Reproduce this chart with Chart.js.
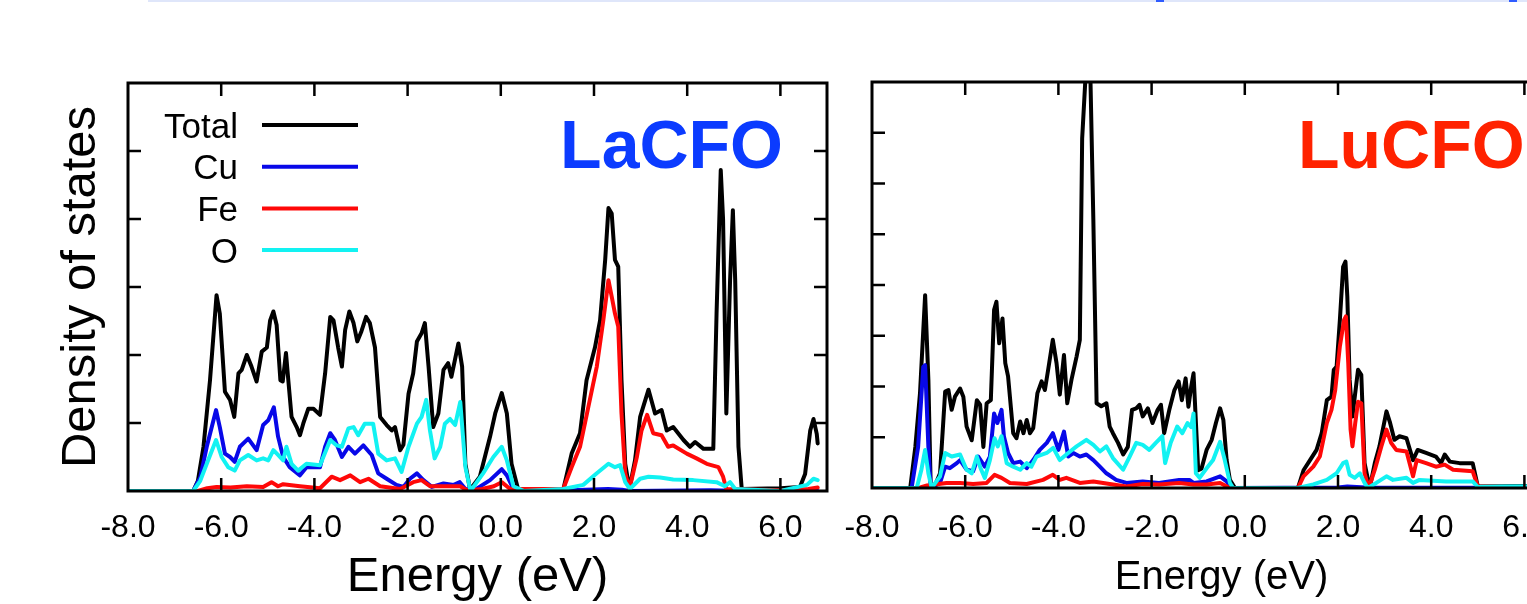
<!DOCTYPE html>
<html>
<head>
<meta charset="utf-8">
<script src="https://cdn.jsdelivr.net/npm/chart.js@4"></script>
<style>
  html, body { margin: 0; padding: 0; background: #fff; width: 1527px; height: 604px; overflow: hidden; }
  body { position: relative; }
  canvas { position: absolute; top: 0; }
  #laChart { left: 0; }
  #luChart { left: 830px; }
  .rule { position: absolute; top: 0; left: 148px; width: 1379px; height: 2px; background: #dfe6fa; }
  .mark { position: absolute; top: 0; height: 2px; width: 8px; background: #2f5cff; }
</style>
</head>
<body>
<div class="rule"></div>
<div class="mark" style="left:1156px"></div>
<div class="mark" style="left:1509px"></div>
<canvas id="laChart" width="840" height="604" style="width:840px;height:604px"></canvas>
<canvas id="luChart" width="770" height="604" style="width:770px;height:604px"></canvas>
<script>
// Energy axis ticks (eV) and their labels
const energyTicks = [-8, -6, -4, -2, 0, 2, 4, 6];
const energyTickLabels = ['-8.0', '-6.0', '-4.0', '-2.0', '0.0', '2.0', '4.0', '6.0'];
const laDosTicks = [1, 2, 3, 4, 5];
const luDosTicks = [1, 2, 3, 4, 5, 6, 7];
const seriesNames = ['Total', 'Cu', 'Fe', 'O'];

// ---- LaCFO projected density of states ----
const laTotalE = [-8.0, -6.6, -6.5, -6.38, -6.24, -6.10, -6.03, -5.92, -5.81, -5.72, -5.63, -5.56, -5.45, -5.35, -5.24, -5.13, -5.02, -4.95, -4.88, -4.81, -4.73, -4.68, -4.61, -4.56, -4.49, -4.38, -4.31, -4.24, -4.13, -4.02, -3.88, -3.77, -3.66, -3.59, -3.49, -3.41, -3.34, -3.25, -3.16, -3.08, -2.99, -2.89, -2.81, -2.70, -2.59, -2.45, -2.34, -2.27, -2.16, -2.09, -1.98, -1.88, -1.80, -1.70, -1.63, -1.55, -1.45, -1.34, -1.23, -1.13, -1.06, -0.91, -0.83, -0.76, -0.66, -0.45, -0.23, -0.12, 0.02, 0.13, 0.23, 0.37, 1.0, 1.34, 1.52, 1.70, 1.84, 2.02, 2.13, 2.24, 2.31, 2.38, 2.45, 2.52, 2.59, 2.67, 2.76, 2.88, 2.99, 3.17, 3.31, 3.45, 3.56, 3.70, 3.92, 4.06, 4.17, 4.35, 4.56, 4.63, 4.72, 4.77, 4.84, 4.92, 4.98, 5.03, 5.10, 5.17, 6.0, 6.42, 6.53, 6.64, 6.71, 6.78, 6.80];
const laTotal = [0, 0, 0.15, 0.65, 1.63, 2.88, 2.61, 1.46, 1.34, 1.09, 1.73, 1.78, 2.0, 1.83, 1.61, 2.05, 2.11, 2.51, 2.64, 2.44, 1.63, 1.61, 2.03, 1.63, 1.09, 0.94, 0.82, 0.99, 1.21, 1.21, 1.12, 1.73, 2.56, 2.51, 2.11, 1.83, 2.37, 2.64, 2.47, 2.20, 2.35, 2.56, 2.47, 2.11, 1.09, 0.97, 0.89, 0.94, 0.60, 0.68, 1.43, 1.73, 2.20, 2.32, 2.47, 1.83, 0.94, 1.14, 1.78, 1.88, 1.68, 2.17, 1.83, 0.40, 0.02, 0.21, 0.80, 1.14, 1.44, 1.14, 0.40, 0.03, 0.01, 0.02, 0.55, 0.85, 1.63, 2.11, 2.51, 3.40, 4.16, 4.08, 3.40, 3.30, 1.63, 0.40, 0.03, 0.45, 1.09, 1.49, 1.14, 1.19, 0.89, 0.94, 0.75, 0.65, 0.72, 0.62, 0.62, 2.61, 4.72, 3.99, 1.14, 3.10, 4.13, 3.10, 0.65, 0.03, 0.04, 0.06, 0.25, 0.89, 1.06, 0.84, 0.70];

const laCuE = [-8.0, -6.6, -6.45, -6.31, -6.11, -6.03, -5.92, -5.81, -5.71, -5.60, -5.42, -5.24, -5.10, -4.99, -4.87, -4.78, -4.67, -4.53, -4.31, -4.17, -3.88, -3.77, -3.66, -3.56, -3.41, -3.27, -3.13, -2.95, -2.77, -2.63, -2.45, -2.24, -2.09, -1.95, -1.80, -1.66, -1.48, -1.23, -1.01, -0.88, -0.76, -0.55, -0.23, 0.02, 0.13, 0.27, 1.5, 2.3, 2.6, 2.76, 4.5, 5.2, 6.8];
const laCu = [0, 0, 0.2, 0.65, 1.19, 0.94, 0.55, 0.50, 0.43, 0.65, 0.77, 0.60, 0.97, 1.04, 1.23, 0.80, 0.50, 0.35, 0.23, 0.35, 0.35, 0.65, 0.85, 0.75, 0.50, 0.65, 0.55, 0.67, 0.53, 0.26, 0.18, 0.09, 0.06, 0.18, 0.26, 0.16, 0.06, 0.11, 0.09, 0.13, 0.03, 0.02, 0.16, 0.32, 0.23, 0.03, 0.01, 0.03, 0.02, 0, 0.01, 0, 0];

const laFeE = [-8.0, -6.5, -6.3, -6.10, -5.8, -5.45, -5.1, -4.92, -4.78, -4.67, -4.31, -3.88, -3.63, -3.45, -3.23, -3.02, -2.84, -2.59, -2.16, -1.88, -1.70, -1.52, -1.01, -0.87, -0.73, -0.4, -0.15, 0.02, 0.2, 1.34, 1.52, 1.70, 1.88, 2.06, 2.20, 2.31, 2.38, 2.45, 2.52, 2.59, 2.67, 2.76, 2.92, 3.02, 3.14, 3.27, 3.45, 3.59, 3.70, 3.99, 4.20, 4.42, 4.67, 4.77, 4.84, 6.0, 6.6, 6.8];
const laFe = [0, 0, 0.04, 0.06, 0.05, 0.07, 0.06, 0.13, 0.07, 0.10, 0.07, 0.04, 0.21, 0.16, 0.23, 0.13, 0.18, 0.07, 0.03, 0.13, 0.16, 0.07, 0.07, 0.07, 0.01, 0.03, 0.07, 0.13, 0.03, 0.03, 0.35, 0.65, 1.24, 1.83, 2.51, 3.10, 2.86, 2.61, 2.42, 1.14, 0.26, 0.03, 0.50, 0.89, 1.12, 0.85, 0.82, 0.65, 0.67, 0.55, 0.48, 0.40, 0.35, 0.21, 0.03, 0.01, 0.03, 0.05];

const laOE = [-8.0, -6.6, -6.45, -6.31, -6.11, -5.99, -5.85, -5.71, -5.60, -5.42, -5.24, -5.10, -4.99, -4.88, -4.78, -4.67, -4.60, -4.49, -4.35, -4.17, -3.88, -3.66, -3.52, -3.41, -3.27, -3.16, -3.06, -2.92, -2.74, -2.63, -2.45, -2.27, -2.13, -1.98, -1.80, -1.70, -1.60, -1.52, -1.42, -1.30, -1.20, -1.09, -0.98, -0.87, -0.76, -0.65, -0.38, -0.16, 0.02, 0.13, 0.27, 0.5, 1.34, 1.77, 2.06, 2.31, 2.45, 2.56, 2.67, 2.77, 2.99, 3.17, 3.42, 3.70, 4.13, 4.63, 4.81, 4.92, 5.03, 6.0, 6.57, 6.71, 6.80];
const laO = [0, 0, 0.15, 0.40, 0.75, 0.50, 0.35, 0.30, 0.45, 0.53, 0.45, 0.48, 0.45, 0.60, 0.53, 0.45, 0.65, 0.40, 0.30, 0.40, 0.38, 0.75, 0.67, 0.65, 0.92, 0.94, 0.82, 0.99, 0.99, 0.55, 0.45, 0.48, 0.28, 0.65, 0.99, 1.09, 1.34, 0.89, 0.48, 0.65, 0.99, 1.06, 0.97, 1.31, 0.35, 0.0, 0.26, 0.50, 0.65, 0.45, 0.07, 0.0, 0.03, 0.09, 0.26, 0.40, 0.35, 0.38, 0.13, 0.03, 0.18, 0.21, 0.20, 0.17, 0.16, 0.13, 0.07, 0.13, 0.03, 0.0, 0.09, 0.18, 0.16];

// ---- LuCFO projected density of states ----
const luTotalE = [-8.0, -7.18, -7.07, -6.97, -6.86, -6.79, -6.74, -6.65, -6.54, -6.43, -6.36, -6.29, -6.22, -6.11, -6.04, -5.97, -5.86, -5.75, -5.68, -5.61, -5.54, -5.45, -5.38, -5.33, -5.27, -5.20, -5.14, -5.08, -4.97, -4.90, -4.82, -4.75, -4.68, -4.61, -4.54, -4.45, -4.36, -4.29, -4.22, -4.12, -4.04, -3.97, -3.88, -3.81, -3.72, -3.61, -3.54, -3.49, -3.40, -3.32, -3.25, -3.18, -3.08, -2.97, -2.90, -2.83, -2.72, -2.61, -2.51, -2.42, -2.33, -2.26, -2.19, -2.08, -1.98, -1.87, -1.80, -1.73, -1.62, -1.51, -1.42, -1.35, -1.27, -1.21, -1.15, -1.10, -1.06, -1.00, -0.93, -0.82, -0.71, -0.62, -0.53, -0.46, -0.39, -0.32, -0.21, 1.14, 1.26, 1.40, 1.54, 1.65, 1.76, 1.86, 1.91, 1.97, 2.04, 2.11, 2.16, 2.20, 2.25, 2.31, 2.36, 2.43, 2.50, 2.57, 2.68, 2.79, 2.89, 3.04, 3.11, 3.21, 3.32, 3.47, 3.61, 3.71, 3.89, 4.10, 4.21, 4.29, 4.40, 4.61, 4.89, 5.00, 6.0, 7.0];
const luTotal = [0, 0, 0.81, 1.87, 3.80, 2.13, 0.02, 0.05, 0.29, 1.90, 1.93, 1.54, 1.80, 1.96, 1.80, 1.21, 0.94, 1.73, 1.64, 0.81, 1.67, 1.73, 3.51, 3.67, 2.85, 3.34, 2.46, 2.20, 1.08, 0.98, 1.31, 1.08, 1.34, 1.08, 1.18, 1.87, 2.10, 1.93, 2.33, 2.92, 2.46, 1.84, 2.62, 1.67, 2.13, 2.59, 2.92, 6.89, 8.4, 8.4, 5.28, 1.67, 1.61, 1.67, 1.21, 1.08, 0.89, 0.66, 0.81, 1.54, 1.57, 1.64, 1.41, 1.57, 1.28, 1.54, 1.64, 1.08, 1.54, 1.93, 2.10, 1.73, 2.16, 1.60, 2.00, 2.26, 1.50, 0.35, 0.38, 0.75, 0.95, 1.28, 1.57, 1.34, 0.55, 0.16, 0.0, 0.0, 0.35, 0.55, 0.75, 1.08, 1.73, 1.80, 2.33, 2.39, 3.31, 4.36, 4.46, 3.77, 2.13, 1.41, 1.80, 2.33, 2.23, 0.49, 0.0, 0.49, 0.82, 1.51, 1.31, 0.95, 1.02, 0.98, 0.55, 0.75, 0.69, 0.62, 0.49, 0.66, 0.52, 0.49, 0.49, 0.03, 0.04, 0.05];

const luCuE = [-8.0, -7.15, -7.01, -6.90, -6.86, -6.79, -6.74, -6.54, -6.43, -6.33, -6.18, -6.11, -5.97, -5.83, -5.72, -5.58, -5.47, -5.38, -5.31, -5.22, -5.17, -5.08, -4.97, -4.82, -4.68, -4.54, -4.40, -4.25, -4.12, -4.00, -3.88, -3.79, -3.68, -3.54, -3.40, -3.25, -3.11, -2.97, -2.76, -2.54, -2.19, -1.84, -1.41, -1.19, -1.10, -0.82, -0.53, -0.39, -0.28, 2.0, 2.2, 2.6, 7.0];
const luCu = [0, 0, 0.81, 2.39, 2.42, 0.81, 0, 0.10, 0.42, 0.39, 0.49, 0.55, 0.36, 0.33, 0.62, 0.42, 0.62, 1.47, 1.28, 1.54, 1.02, 0.69, 0.49, 0.52, 0.39, 0.55, 0.75, 0.89, 1.08, 0.75, 1.11, 0.62, 0.69, 0.62, 0.66, 0.55, 0.42, 0.29, 0.16, 0.10, 0.13, 0.10, 0.16, 0.16, 0.10, 0.13, 0.23, 0.13, 0, 0.01, 0.03, 0.01, 0];

const luFeE = [-8.0, -7.0, -6.82, -6.40, -6.11, -5.83, -5.54, -5.37, -5.22, -5.04, -4.68, -4.33, -4.12, -3.97, -3.83, -3.54, -3.25, -2.90, -2.54, -2.19, -1.84, -1.41, -1.10, -0.82, -0.53, -0.32, 1.14, 1.26, 1.47, 1.61, 1.76, 1.86, 1.94, 2.04, 2.13, 2.17, 2.22, 2.27, 2.31, 2.37, 2.43, 2.50, 2.57, 2.66, 2.79, 2.93, 3.04, 3.14, 3.25, 3.47, 3.61, 3.69, 3.89, 4.10, 4.29, 4.47, 4.89, 5.00, 7.0];
const luFe = [0, 0, 0.05, 0.10, 0.10, 0.08, 0.10, 0.26, 0.20, 0.10, 0.08, 0.16, 0.26, 0.16, 0.20, 0.10, 0.13, 0.08, 0.03, 0.08, 0.07, 0.10, 0.07, 0.07, 0.10, 0, 0, 0.23, 0.42, 0.62, 1.28, 1.54, 1.93, 2.79, 3.31, 3.38, 2.46, 1.15, 0.82, 1.28, 1.70, 1.67, 0.29, 0, 0.36, 0.82, 1.15, 0.89, 0.75, 0.72, 0.23, 0.55, 0.49, 0.42, 0.46, 0.36, 0.33, 0.03, 0];

const luOE = [-8.0, -7.04, -6.94, -6.86, -6.79, -6.72, -6.54, -6.43, -6.29, -6.11, -5.97, -5.86, -5.75, -5.67, -5.58, -5.47, -5.37, -5.30, -5.22, -5.11, -4.97, -4.82, -4.68, -4.58, -4.47, -4.25, -4.11, -3.97, -3.79, -3.61, -3.40, -3.25, -3.11, -2.97, -2.83, -2.61, -2.47, -2.33, -2.19, -2.05, -1.91, -1.77, -1.71, -1.59, -1.45, -1.34, -1.23, -1.15, -1.10, -1.05, -0.97, -0.82, -0.68, -0.53, -0.43, -0.32, -0.25, 1.14, 1.47, 1.76, 1.97, 2.11, 2.18, 2.25, 2.36, 2.47, 2.57, 2.64, 2.82, 3.04, 3.18, 3.47, 3.61, 3.75, 4.32, 4.89, 5.00, 5.5, 7.0];
const luO = [0, 0, 0.36, 0.75, 0.29, 0, 0.23, 0.69, 0.62, 0.66, 0.36, 0.29, 0.62, 0.39, 0.20, 0.55, 0.98, 0.82, 1.02, 0.49, 0.42, 0.36, 0.49, 0.42, 0.62, 0.69, 0.79, 0.55, 0.69, 0.82, 0.95, 0.85, 0.72, 0.82, 0.59, 0.36, 0.62, 0.89, 0.85, 0.75, 0.89, 1.02, 0.49, 0.89, 1.21, 1.08, 1.28, 1.20, 1.47, 0.29, 0.20, 0.39, 0.55, 0.91, 0.55, 0.10, 0, 0, 0.07, 0.16, 0.29, 0.49, 0.52, 0.26, 0.20, 0.29, 0.10, 0, 0.10, 0.23, 0.16, 0.20, 0.10, 0.16, 0.13, 0.13, 0.02, 0.03, 0.04];

const FONT = "'Liberation Sans', Arial, Helvetica, sans-serif";
const COLORS = { Total: '#000000', Cu: '#0808e8', Fe: '#ff0808', O: '#12f2f2' };

function pairs(es, vs) { return es.map((e, i) => ({ x: e, y: vs[i] })); }

// Box frame with inward tick marks on all four sides
const framePlugin = {
  id: 'frame',
  afterDatasetsDraw(chart) {
    const { ctx, chartArea: a, scales } = chart;
    const len = 13;
    ctx.save();
    ctx.strokeStyle = '#000';
    ctx.lineWidth = 2.5;
    ctx.beginPath();
    energyTicks.forEach(v => {
      if (v <= scales.x.min || v >= scales.x.max) return;
      const px = scales.x.getPixelForValue(v);
      ctx.moveTo(px, a.top); ctx.lineTo(px, a.top + len);
      ctx.moveTo(px, a.bottom); ctx.lineTo(px, a.bottom - len);
    });
    chart.options.dosTicks.forEach(v => {
      const py = scales.y.getPixelForValue(v);
      ctx.moveTo(a.left, py); ctx.lineTo(a.left + len, py);
      ctx.moveTo(a.right, py); ctx.lineTo(a.right - len, py);
    });
    ctx.stroke();
    ctx.lineWidth = 3;
    ctx.strokeRect(a.left, a.top, a.right - a.left, a.bottom - a.top);
    ctx.restore();
  }
};

// Compound name and (optionally) the line legend inside the frame
const annotationPlugin = {
  id: 'annot',
  afterDraw(chart) {
    const o = chart.options.annot;
    const { ctx, chartArea: a } = chart;
    ctx.save();
    ctx.font = `bold 68px ${FONT}`;
    ctx.fillStyle = o.color;
    ctx.textBaseline = 'alphabetic';
    ctx.textAlign = o.align;
    ctx.fillText(o.name, a.left + o.nameX, a.top + o.nameY);
    if (o.legend) {
      ctx.font = `35px ${FONT}`;
      ctx.textAlign = 'right';
      chart.data.datasets.forEach((ds, i) => {
        const y = a.top + 42 + i * 41.7;
        ctx.fillStyle = '#000';
        ctx.fillText(ds.label, a.left + 110, y + 12.5);
        ctx.strokeStyle = ds.borderColor;
        ctx.lineWidth = 4;
        ctx.beginPath();
        ctx.moveTo(a.left + 134, y);
        ctx.lineTo(a.left + 230, y);
        ctx.stroke();
      });
    }
    ctx.restore();
  }
};

function makePanel(id, series, cfg) {
  const datasets = series.map((s, i) => ({
    label: seriesNames[i],
    data: pairs(s[0], s[1]),
    borderColor: COLORS[seriesNames[i]],
    borderWidth: 4,
    borderJoinStyle: 'round',
    borderCapStyle: 'round',
    pointRadius: 0,
    tension: 0,
    fill: false,
    order: 4 - i
  }));
  return new Chart(document.getElementById(id), {
    type: 'line',
    data: { datasets },
    plugins: [framePlugin, annotationPlugin],
    options: {
      responsive: false,
      animation: false,
      events: [],
      dosTicks: cfg.dosTicks,
      annot: cfg.annot,
      layout: { padding: { left: 0, top: cfg.top, right: cfg.right, bottom: 0 } },
      plugins: { legend: { display: false }, tooltip: { enabled: false } },
      scales: {
        x: {
          type: 'linear', min: -8, max: 7,
          afterBuildTicks: s => { s.ticks = energyTicks.map(v => ({ value: v })); },
          afterFit: s => { s.height = cfg.xHeight; },
          grid: { display: false },
          border: { display: false },
          ticks: {
            color: '#000', autoSkip: false, maxRotation: 0, minRotation: 0,
            padding: cfg.tickPad,
            font: { family: FONT, size: 32 },
            callback: v => energyTickLabels[energyTicks.indexOf(v)]
          },
          title: {
            display: true, text: 'Energy (eV)', color: '#000',
            font: { family: FONT, size: cfg.xTitleSize, lineHeight: 1 },
            padding: { top: 0, bottom: cfg.xTitlePad }
          }
        },
        y: {
          type: 'linear', min: 0, max: cfg.yMax,
          afterBuildTicks: s => { s.ticks = cfg.dosTicks.map(v => ({ value: v })); },
          afterFit: s => { s.width = cfg.yWidth; },
          grid: { display: false },
          border: { display: false },
          ticks: { display: false },
          title: {
            display: cfg.yTitle, text: 'Density of states', color: '#000',
            font: { family: FONT, size: 49, lineHeight: 1 },
            padding: { top: 57, bottom: 0 }
          }
        }
      }
    }
  });
}

makePanel('laChart',
  [[laTotalE, laTotal], [laCuE, laCu], [laFeE, laFe], [laOE, laO]],
  {
    top: 83, right: 13, yWidth: 128, xHeight: 113, yMax: 6, dosTicks: laDosTicks,
    tickPad: 10, xTitleSize: 49, xTitlePad: 2.5, yTitle: true,
    annot: { name: 'LaCFO', color: '#0b3bff', align: 'right', nameX: 655, nameY: 85, legend: true }
  });

makePanel('luChart',
  [[luTotalE, luTotal], [luCuE, luCu], [luFeE, luFe], [luOE, luO]],
  {
    top: 82, right: 29, yWidth: 42, xHeight: 116, yMax: 8, dosTicks: luDosTicks,
    tickPad: 13, xTitleSize: 40, xTitlePad: 6, yTitle: false,
    annot: { name: 'LuCFO', color: '#ff2200', align: 'left', nameX: 426, nameY: 86, legend: false }
  });
</script>
</body>
</html>
